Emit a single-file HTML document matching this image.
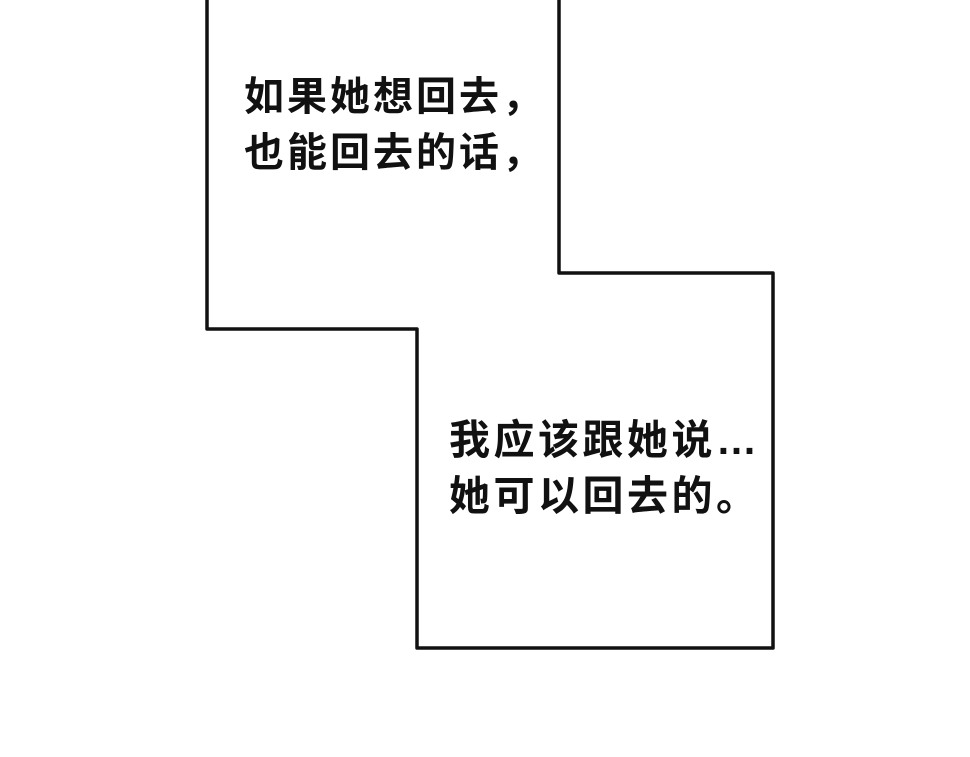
<!DOCTYPE html>
<html><head><meta charset="utf-8"><style>
html,body{margin:0;padding:0;background:#fff;}
svg{display:block}
text{font-family:"Liberation Sans","Noto Sans CJK SC",sans-serif;fill:#111;font-weight:bold;}
</style></head><body>
<svg width="970" height="757" viewBox="0 0 970 757" xmlns="http://www.w3.org/2000/svg">
<rect width="970" height="757" fill="#fff"/>
<polyline points="207,0 207,329 417,329 417,648 773,648 773,273 559,273 559,0" fill="#fff" stroke="#111" stroke-width="3.5" stroke-linejoin="round"/>
<text x="244" y="110" font-size="40" letter-spacing="3">如果她想回去，</text>
<text x="244" y="166" font-size="40" letter-spacing="3">也能回去的话，</text>
<text x="449" y="454" font-size="41" letter-spacing="3.5">我应该跟她说…</text>
<text x="449" y="510" font-size="41" letter-spacing="3.5">她可以回去的。</text>
</svg>
</body></html>
